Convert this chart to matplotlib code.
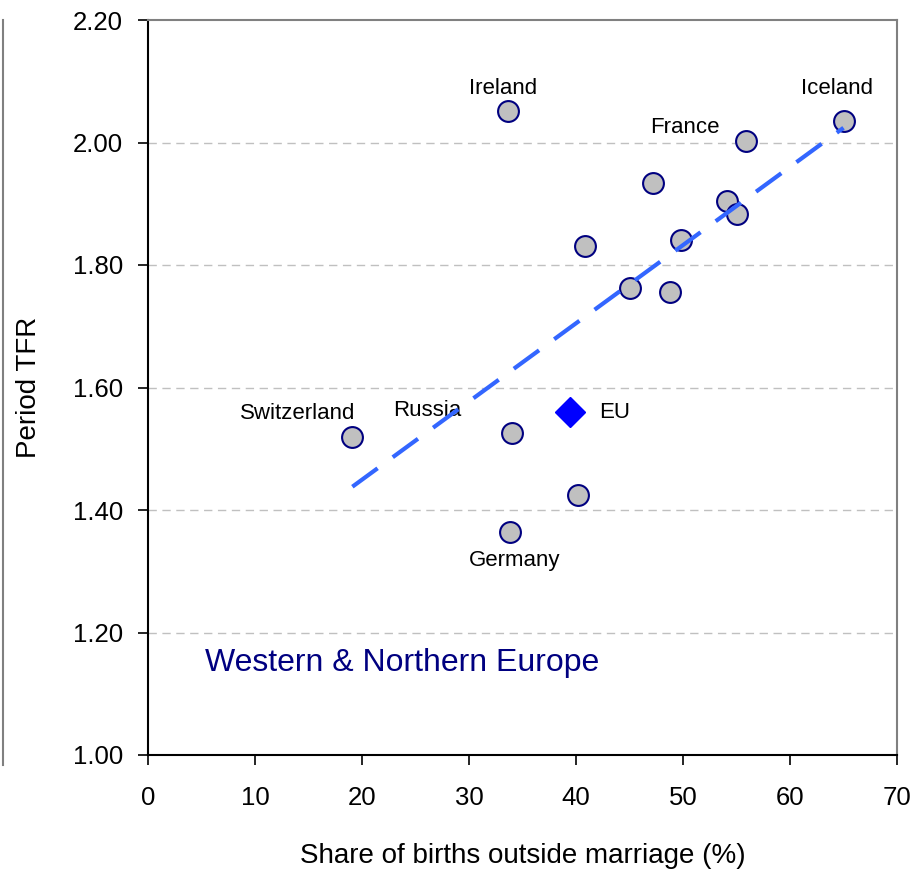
import matplotlib
matplotlib.use('Agg')
import matplotlib.pyplot as plt
import numpy as np

# Anteil nichtehelicher Geburten (%) und Perioden-TFR
share_outside = [33.6, 65.0, 55.9, 47.2, 54.1, 55.0, 49.8, 40.8, 45.0, 48.8, 19.1, 34.0, 40.2, 33.8]
tfr = [2.051, 2.035, 2.002, 1.934, 1.904, 1.883, 1.841, 1.831, 1.762, 1.756, 1.519, 1.526, 1.424, 1.364]

eu_x = [39.4]
eu_y = [1.560]

trend_x = [19.1, 65.0]
trend_y = [1.438, 2.024]

# Beschriftungen: Text, Position (x, y)
labels = ['Ireland', 'Iceland', 'France', 'Switzerland', 'Russia', 'Germany']
label_x = [33.2, 64.4, 50.2, 14.0, 26.1, 34.3]
label_y = [2.088, 2.088, 2.024, 1.558, 1.562, 1.317]

x_ticks = np.arange(0, 71, 10)
y_ticks = np.arange(1.0, 2.21, 0.2)

plt.rcParams['font.family'] = ['Liberation Sans', 'DejaVu Sans']
fig = plt.figure(figsize=(9.15, 8.69), dpi=100)
ax = fig.add_axes([148/915, 1 - 755/869, (897 - 148)/915, (755 - 20)/869])

# Horizontale Gitterlinien
for yv in y_ticks[1:-1]:
    ax.axhline(yv, color='#c0c0c0', linewidth=1, dashes=(6, 4), zorder=1)

# Trendlinie
ax.plot(trend_x, trend_y, color='#3366ff', linewidth=3.0, dashes=(7.5, 4.5),
        solid_capstyle='butt', zorder=4)

# Länderpunkte
ax.plot(share_outside, tfr, linestyle='none', marker='o', markersize=15,
        markerfacecolor='#c0c0c0', markeredgecolor='#000080', markeredgewidth=1.5, zorder=3)

# EU-Durchschnitt
ax.plot(eu_x, eu_y, linestyle='none', marker='D', markersize=15,
        markerfacecolor='#0000ff', markeredgecolor='#0000ff', zorder=5)
ax.text(eu_x[0] + 2.8, eu_y[0], 'EU', fontsize=16, ha='left', va='center')

for t, lx, ly in zip(labels, label_x, label_y):
    ax.text(lx, ly, t, fontsize=16, ha='center', va='center')

ax.text(5.3, 1.150, 'Western & Northern Europe', fontsize=23, color='#000080',
        ha='left', va='center')

ax.set_xlim(0, 70)
ax.set_ylim(1.0, 2.2)
ax.set_xticks(x_ticks)
ax.set_yticks(y_ticks)
ax.set_yticklabels([f'{v:.2f}' for v in y_ticks])
ax.tick_params(axis='both', direction='out', length=7, width=1.2, labelsize=18.5, colors='black')
ax.tick_params(axis='x', pad=15)
ax.tick_params(axis='y', pad=11)

ax.set_xlabel('Share of births outside marriage (%)', fontsize=20, labelpad=24)
ax.set_ylabel('Period TFR', fontsize=20, labelpad=22)

for s in ['left', 'bottom']:
    ax.spines[s].set_color('black')
    ax.spines[s].set_linewidth(1.5)
for s in ['top', 'right']:
    ax.spines[s].set_color('#808080')
    ax.spines[s].set_linewidth(1.5)

# Rest des Nachbardiagramms am linken Rand
fig.add_artist(plt.Line2D([3/915, 3/915], [1 - 765/869, 1 - 20/869],
                          color='#808080', linewidth=1.5))

fig.savefig('out.png', dpi=100)
plt.close(fig)
